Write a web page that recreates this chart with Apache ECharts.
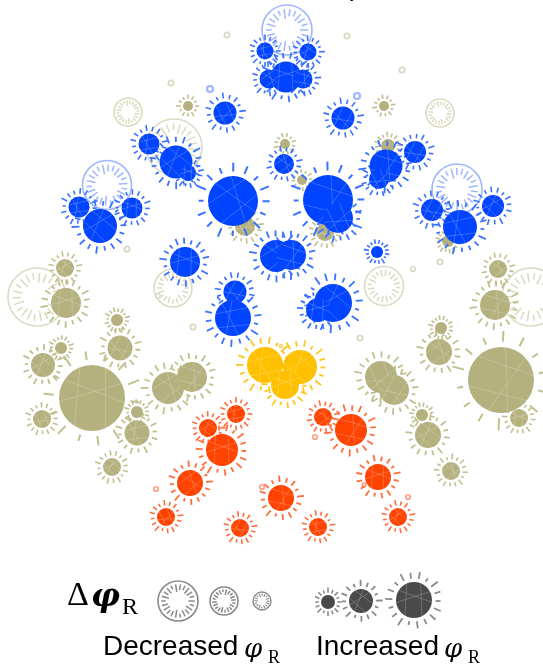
<!DOCTYPE html>
<html>
<head>
<meta charset="utf-8">
<script src="https://cdn.jsdelivr.net/npm/echarts@6/dist/echarts.min.js"></script>
<style>
  html, body { margin: 0; padding: 0; background: #fff; }
  #chart { width: 543px; height: 667px; }
</style>
</head>
<body>
<div id="chart"></div>
<script>
// Glyph lists: [x, y, |Δφ_R| as radius]
const blueUp = [
  [265, 51, 8.5], [308, 52, 8.5], [286, 77, 15.5], [269, 79, 9.5], [303, 79, 9.5],
  [225, 113, 11.5], [343, 118, 11.5], [149, 144, 10.5], [176, 162, 16.5], [188, 173, 8],
  [284, 164, 10], [386, 166, 16.5], [379, 179, 10], [415, 152, 11],
  [79, 207, 10.5], [100, 226, 17], [132, 208, 10.5],
  [233, 201, 25], [328, 200, 25], [338, 218, 15],
  [432, 210, 11], [460, 227, 17], [493, 206, 11],
  [185, 262, 15], [276, 256, 16], [291, 255, 15], [377, 252, 6],
  [235, 292, 11.5], [233, 318, 18], [333, 303, 19], [318, 310, 12]
];
const blueDown = [
  [287, 30, 25], [107, 185, 24.5], [457, 189, 25], [210, 89, 4], [357, 96, 4]
];
const oliveUp = [
  [188, 106, 5], [384, 106, 5], [285, 144, 5], [388, 146, 7], [302, 180, 5],
  [245, 226, 10], [325, 232, 9], [448, 241, 6],
  [65, 268, 9], [66, 303, 15], [498, 269, 9], [495, 305, 15],
  [117, 320, 6], [120, 348, 12.5], [61, 348, 6], [43, 365, 12], [92, 398, 33],
  [168, 388, 16], [192, 377, 15], [42, 419, 9], [137, 412, 6], [137, 433, 12.5], [112, 467, 9],
  [441, 328, 6], [439, 352, 13], [501, 380, 33], [381, 377, 16], [394, 390, 15],
  [422, 415, 6], [428, 435, 13], [519, 418, 9], [451, 471, 9]
];
const oliveDown = [
  [227, 35, 3.5], [347, 36, 3.5], [402, 70, 3.5], [171, 83, 3.5],
  [128, 112, 14], [440, 113, 14], [174, 147, 28], [127, 249, 3.5],
  [37, 297, 29], [173, 288, 19], [158, 296, 3], [193, 327, 3.5],
  [413, 269, 3], [440, 262, 3.5], [384, 286, 19.5], [531, 297, 29],
  [360, 338, 3.5], [103, 381, 3]
];
const yellowUp = [[265, 365, 18], [300, 367, 17], [285, 385, 14]];
const yellowDown = [[281, 346, 2]];
const redUp = [
  [236, 414, 9], [208, 428, 9], [222, 450, 16], [190, 483, 13], [281, 498, 13],
  [166, 517, 9], [240, 528, 9], [318, 527, 9], [398, 517, 9], [378, 477, 13],
  [323, 417, 9], [351, 430, 16]
];
const redDown = [[156, 489, 3], [262, 487, 3], [408, 497, 3], [315, 437, 3], [364, 485, 2.5]];
// Key glyphs
const keyDown = [[178, 601, 20], [224, 601, 14], [262, 601, 9]];
const keyUp = [[328, 602, 7], [361, 601, 12], [414, 600, 18]];

const SPIKE_LEN = [1, 0.7, 1.15, 0.85, 1.05, 0.6, 1.25, 0.9, 0.75, 1.1];

function center(api) {
  return api.coord([api.value(0), api.value(1)]);
}
function radius(api) {
  return Math.abs(api.size([api.value(2), 0])[0]);
}

// radial spikes around an "increased" glyph
function spikeRenderer(color) {
  return function (params, api) {
    const c = center(api), r = radius(api), i = params.dataIndex;
    const n = r < 6 ? 12 : r < 14 ? 16 : r < 22 ? 18 : r < 30 ? 16 : 14;
    const gap = 1.5 + 0.12 * r;
    const len = 3 + 0.2 * r;
    const lw = r < 12 ? 1.6 : r < 22 ? 1.8 : 2;
    const off = i * 0.37;
    const children = [];
    for (let k = 0; k < n; k++) {
      const a = off + (k / n) * Math.PI * 2;
      const f = SPIKE_LEN[(k + i) % SPIKE_LEN.length];
      const r0 = r + gap, r1 = r + gap + len * f;
      children.push({
        type: 'line',
        shape: {
          x1: c[0] + r0 * Math.cos(a), y1: c[1] + r0 * Math.sin(a),
          x2: c[0] + r1 * Math.cos(a), y2: c[1] + r1 * Math.sin(a)
        },
        style: { stroke: color, lineWidth: lw, lineCap: 'butt' },
        silent: true
      });
    }
    return { type: 'group', children: children };
  };
}

// filled body of an "increased" glyph with faint chord texture
function bodyRenderer(color) {
  return function (params, api) {
    const c = center(api), r = radius(api), i = params.dataIndex;
    const children = [{
      type: 'circle', shape: { cx: c[0], cy: c[1], r: r },
      style: { fill: color }, silent: true
    }];
    if (r >= 8) {
      const pairs = [[0.3, 2.5], [1.2, 4.0], [3.3, 5.6], [4.6, 1.9]];
      const off = i * 0.9;
      pairs.forEach(function (p) {
        const a1 = p[0] + off, a2 = p[1] + off;
        children.push({
          type: 'line',
          shape: {
            x1: c[0] + r * Math.cos(a1), y1: c[1] + r * Math.sin(a1),
            x2: c[0] + r * Math.cos(a2), y2: c[1] + r * Math.sin(a2)
          },
          style: { stroke: 'rgba(255,255,255,0.25)', lineWidth: 0.8 },
          silent: true
        });
      });
    }
    return { type: 'group', children: children };
  };
}

// outlined ring with inward ticks for a "decreased" glyph
function ringRenderer(color) {
  return function (params, api) {
    const c = center(api), r = radius(api), i = params.dataIndex;
    if (r < 6) {
      return {
        type: 'circle', shape: { cx: c[0], cy: c[1], r: r * 0.75 },
        style: { fill: 'none', stroke: color, lineWidth: Math.max(1.6, r * 0.55) },
        silent: true
      };
    }
    const children = [{
      type: 'circle', shape: { cx: c[0], cy: c[1], r: r },
      style: { fill: 'none', stroke: color, lineWidth: r < 12 ? 1.4 : 1.6 },
      silent: true
    }];
    const n = r < 12 ? 16 : r < 20 ? 20 : 22;
    const off = i * 0.21;
    for (let k = 0; k < n; k++) {
      const a = off + (k / n) * Math.PI * 2;
      const f = SPIKE_LEN[(k + i) % SPIKE_LEN.length];
      const r0 = r * (0.82 - 0.3 * f), r1 = r * 0.84;
      children.push({
        type: 'line',
        shape: {
          x1: c[0] + r0 * Math.cos(a), y1: c[1] + r0 * Math.sin(a),
          x2: c[0] + r1 * Math.cos(a), y2: c[1] + r1 * Math.sin(a)
        },
        style: { stroke: color, lineWidth: r < 12 ? 1.1 : 1.5 },
        silent: true
      });
    }
    return { type: 'group', children: children };
  };
}

function layer(data, renderItem) {
  return {
    type: 'custom',
    coordinateSystem: 'cartesian2d',
    data: data,
    renderItem: renderItem,
    animation: false,
    silent: true
  };
}

const series = [
  layer(oliveDown, ringRenderer('#dcdac3')),
  layer(oliveUp, spikeRenderer('#c2bf8f')),
  layer(oliveUp, bodyRenderer('#b4b17e')),
  layer(blueDown, ringRenderer('#9fb6ff')),
  layer(blueUp, spikeRenderer('#3a72ff')),
  layer(blueUp, bodyRenderer('#0044ff')),
  layer(yellowDown, ringRenderer('#ffcf60')),
  layer(yellowUp, spikeRenderer('#ffc51a')),
  layer(yellowUp, bodyRenderer('#ffc000')),
  layer(redDown, ringRenderer('#ff9d86')),
  layer(redUp, spikeRenderer('#ff6d3c')),
  layer(redUp, bodyRenderer('#ff4300')),
  layer(keyDown, ringRenderer('#8a8a8a')),
  layer(keyUp, spikeRenderer('#8a8a8a')),
  layer(keyUp, bodyRenderer('#4a4a4a'))
];

const SANS = '"Liberation Sans", Arial, sans-serif';
const SERIF = '"Liberation Serif", "DejaVu Serif", serif';
const PHI = '"DejaVu Serif", serif';

function label(x, y, text, font) {
  return {
    type: 'text', x: x, y: y, silent: true,
    style: { text: text, font: font, fill: '#000', align: 'left', verticalAlign: 'middle' }
  };
}

const chart = echarts.init(document.getElementById('chart'), null, { renderer: 'canvas' });
chart.setOption({
  backgroundColor: '#ffffff',
  animation: false,
  grid: { left: 0, right: 0, top: 0, bottom: 0 },
  xAxis: { type: 'value', min: 0, max: 543, show: false },
  yAxis: { type: 'value', min: 0, max: 667, inverse: true, show: false },
  series: series,
  graphic: [
    label(350, -6, 'y', '16px ' + SANS),
    label(67, 596, 'Δ', '34px ' + SERIF),
    label(91, 598, 'φ', 'italic bold 32px ' + PHI),
    label(122, 608, 'R', '24px ' + SERIF),
    label(103, 647, 'Decreased', '28px ' + SANS),
    label(244, 650, 'φ', 'italic 26px ' + PHI),
    label(268, 658, 'R', '18px ' + SERIF),
    label(316, 647, 'Increased', '28px ' + SANS),
    label(444, 650, 'φ', 'italic 26px ' + PHI),
    label(468, 658, 'R', '18px ' + SERIF)
  ]
});
</script>
</body>
</html>
